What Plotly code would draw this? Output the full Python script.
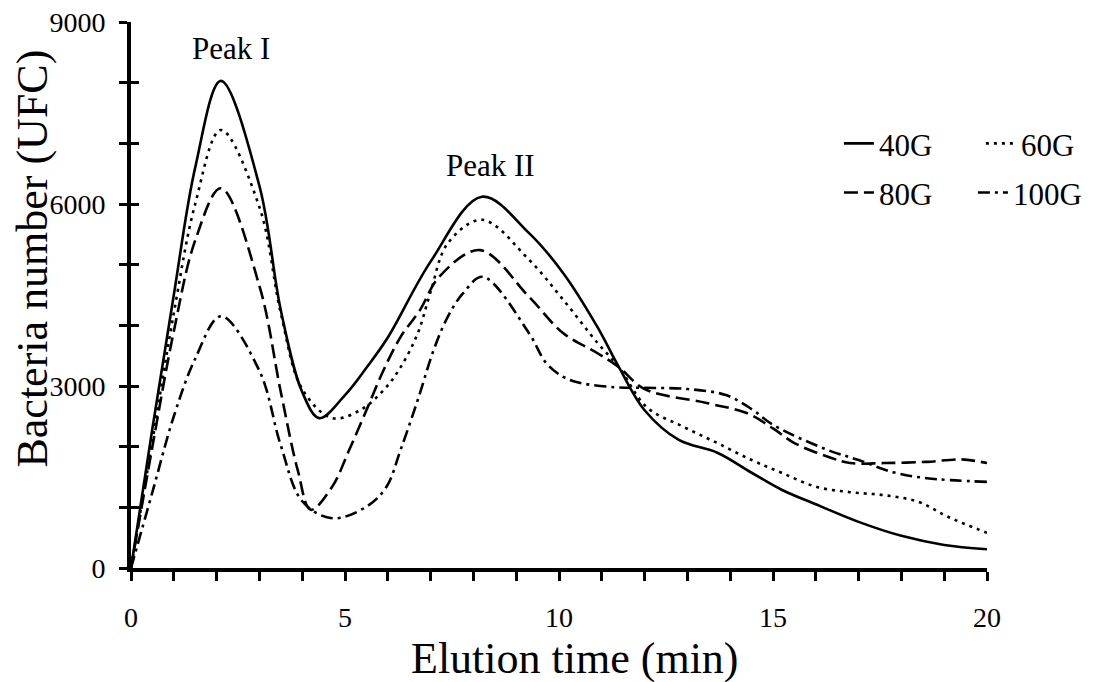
import plotly.graph_objects as go

# elution profiles (time in min, bacteria count in UFC)
time_40g = [0, 0.5, 1, 1.5, 2.1, 3, 3.5, 4, 4.4, 5, 5.5, 6.0, 7, 8.2, 9.3,
            10.1, 10.9, 11.4, 12, 12.8, 13.7, 14.5, 15.2, 16, 17, 18, 19, 20]
count_40g = [0, 2300, 4500, 6600, 8030, 6300, 4250, 2900, 2470, 2850, 3300, 3800, 5050, 6120, 5520,
             4860, 3970, 3310, 2600, 2110, 1900, 1570, 1290, 1050, 760, 530, 380, 310]

time_60g = [0, 0.5, 1, 1.5, 2.1, 3, 3.5, 4, 4.7, 5.35, 5.9, 6.3, 6.7, 7.0, 7.4, 8.2, 9.3,
            10.1, 10.9, 11.4, 12.05, 12.9, 13.7, 14.5, 15.2, 16, 16.8, 17.6, 18.4, 19.1, 20]
count_60g = [0, 2100, 4200, 6000, 7220, 5950, 4200, 2950, 2470, 2600, 2930, 3310, 3870, 4550, 5350, 5740, 5080,
             4420, 3710, 3310, 2650, 2330, 2060, 1780, 1570, 1340, 1250, 1200, 1090, 840, 580]

time_80g = [0, 0.5, 1, 1.5, 2.1, 3, 3.5, 3.9, 4.2, 4.7, 5.1, 5.5, 5.9, 6.3, 6.75, 7.2, 8.15, 9.3,
            10.1, 10.9, 11.4, 12, 13.45, 14.4, 15, 15.5, 16.3, 16.8, 17.6, 18.6, 19.4, 20]
count_80g = [0, 2000, 3900, 5400, 6260, 4650, 2900, 1600, 960, 1340, 1950, 2600, 3260, 3810, 4250, 4800, 5240, 4470,
             3870, 3540, 3310, 2950, 2720, 2550, 2300, 2060, 1830, 1730, 1730, 1750, 1790, 1730]

time_100g = [0, 0.5, 1, 1.5, 2.1, 3, 3.5, 4, 4.7, 5.5, 5.97, 6.3, 6.7, 7.07, 7.4, 7.76, 8.22, 9.3, 9.7,
             10.1, 10.5, 11.3, 12, 13, 13.9, 14.5, 15, 16.26, 17, 17.8, 18.6, 20]
count_100g = [0, 1250, 2500, 3450, 4150, 3250, 2020, 1100, 820, 1010, 1340, 1950, 2770, 3590, 4140, 4530, 4800, 3870, 3380,
              3150, 3050, 2980, 2970, 2950, 2850, 2620, 2360, 1950, 1780, 1580, 1480, 1420]

series = [
    ("40G", time_40g, count_40g, "solid", "legend"),
    ("60G", time_60g, count_60g, "3px,5px", "legend"),
    ("80G", time_80g, count_80g, "14px,6px", "legend2"),
    ("100G", time_100g, count_100g, "12px,5px,3px,5px", "legend2"),
]

FONT = "Liberation Serif, Times New Roman, serif"

fig = go.Figure()
for name, t, c, dash, leg in series:
    fig.add_trace(go.Scatter(
        x=t, y=c, name=name, mode="lines", legend=leg,
        line=dict(color="black", width=2.6, dash=dash, shape="spline", smoothing=1),
    ))

# empty trace so the second y axis (ticks on the inner side) gets drawn
fig.add_trace(go.Scatter(x=[], y=[], yaxis="y2", showlegend=False, hoverinfo="skip"))

fig.add_annotation(x=2.34, y=8560, text="Peak I", showarrow=False,
                   font=dict(family=FONT, size=31, color="black"))
fig.add_annotation(x=8.39, y=6630, text="Peak II", showarrow=False,
                   font=dict(family=FONT, size=31, color="black"))

# axis titles sit a bit off-centre in the original, so place them by hand
fig.add_annotation(x=0.519, y=-0.166, xref="paper", yref="paper", text="Elution time (min)",
                   showarrow=False, xanchor="center", yanchor="middle",
                   font=dict(family=FONT, size=44, color="black"))
fig.add_annotation(x=-0.115, y=0.566, xref="paper", yref="paper", text="Bacteria number (UFC)",
                   showarrow=False, textangle=-90, xanchor="center", yanchor="middle",
                   font=dict(family=FONT, size=44, color="black"))

legend_style = dict(orientation="h", xanchor="left", yanchor="middle",
                    font=dict(family=FONT, size=31, color="black"),
                    entrywidthmode="pixels",
                    bgcolor="rgba(0,0,0,0)", itemclick=False)

# the page body adds an 8px offset, margins are set to land the plot box at 131..987 x 22..568
fig.update_layout(
    width=1102, height=682,
    margin=dict(l=123, r=123, t=14, b=122, autoexpand=False),
    plot_bgcolor="white", paper_bgcolor="white",
    font=dict(family=FONT, size=28, color="black"),
    showlegend=True,
    legend=dict(x=0.827, y=0.777, entrywidth=97, **legend_style),
    legend2=dict(x=0.827, y=0.687, entrywidth=89, **legend_style),
    xaxis=dict(
        range=[0, 20], dtick=5, tick0=0, automargin=False,
        showline=True, linecolor="black", linewidth=4,
        ticks="outside", ticklen=9, tickwidth=3, tickcolor="black",
        minor=dict(dtick=1, ticks="outside", ticklen=9, tickwidth=3, tickcolor="black"),
        showgrid=False, zeroline=False, ticklabelstandoff=12, ticklabeloverflow="allow",
        tickfont=dict(family=FONT, size=28),
    ),
    yaxis=dict(
        range=[0, 9000], dtick=3000, tick0=0, automargin=False,
        showline=True, linecolor="black", linewidth=4,
        ticks="outside", ticklen=8, tickwidth=3, tickcolor="black",
        minor=dict(dtick=1000, ticks="outside", ticklen=8, tickwidth=3, tickcolor="black"),
        showgrid=False, zeroline=False, ticklabelstandoff=8, ticklabeloverflow="allow",
        tickfont=dict(family=FONT, size=28),
    ),
    yaxis2=dict(
        range=[0, 9000], overlaying="y", side="left", anchor="x", automargin=False,
        ticks="inside", ticklen=8, tickwidth=3, tickcolor="black", dtick=1000, tick0=0,
        showticklabels=False, showline=False, showgrid=False, zeroline=False,
    ),
)

fig.write_html("out.html")
